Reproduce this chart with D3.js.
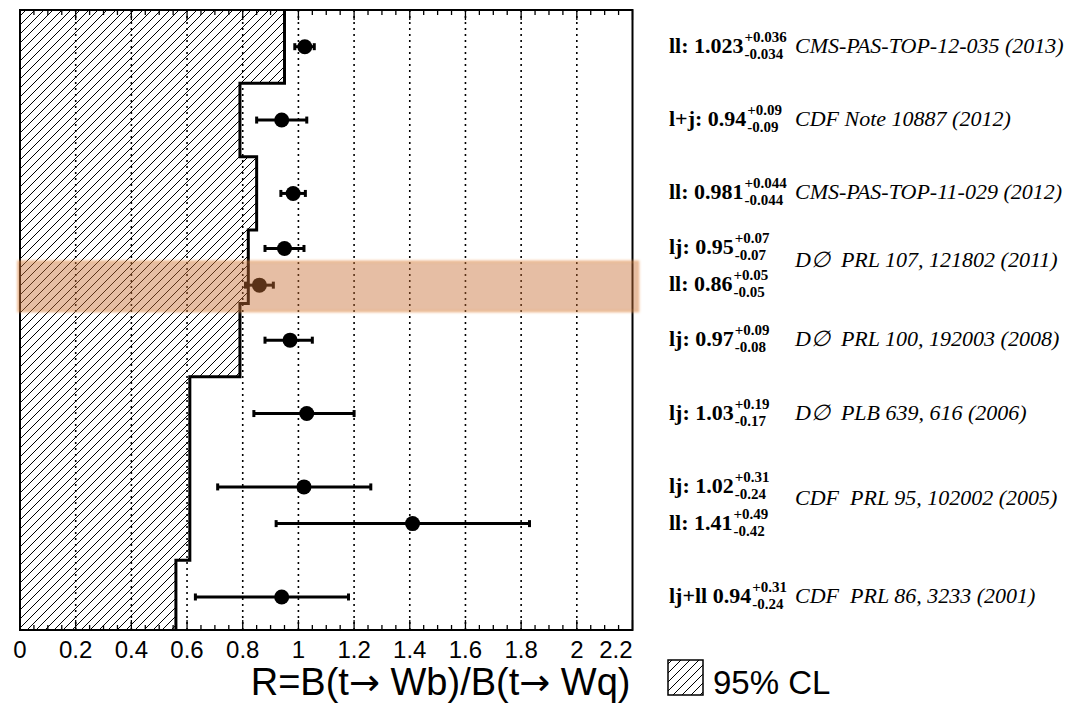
<!DOCTYPE html>
<html>
<head>
<meta charset="utf-8">
<script src="https://cdn.jsdelivr.net/npm/d3@7"></script>
<style>
  body { margin: 0; background: #fff; }
  svg { display: block; }
</style>
</head>
<body>
<svg id="chart" width="1084" height="714"></svg>
<script>
// ---- Measurements of R = B(t->Wb)/B(t->Wq) ----
const channels   = ["ll:", "l+j:", "ll:", "lj:", "ll:", "lj:", "lj:", "lj:", "ll:", "lj+ll"];
const values     = [1.023, 0.94, 0.981, 0.95, 0.86, 0.97, 1.03, 1.02, 1.41, 0.94];
const errPlus    = [0.036, 0.09, 0.044, 0.07, 0.05, 0.09, 0.19, 0.31, 0.49, 0.31];
const errMinus   = [0.034, 0.09, 0.044, 0.07, 0.05, 0.08, 0.17, 0.24, 0.42, 0.24];
const rowSlots   = [1, 3, 5, 6.5, 7.5, 9, 11, 13, 14, 16];

// Publications, each covering a run of measurement rows
const references = ["CMS-PAS-TOP-12-035 (2013)", "CDF Note 10887 (2012)", "CMS-PAS-TOP-11-029 (2012)",
                    "D\u2205  PRL 107, 121802 (2011)", "D\u2205  PRL 100, 192003 (2008)",
                    "D\u2205  PLB 639, 616 (2006)", "CDF  PRL 95, 102002 (2005)", "CDF  PRL 86, 3233 (2001)"];
const refFirstRow = [0, 1, 2, 3, 5, 6, 7, 9];
const refLastRow  = [0, 1, 2, 4, 5, 6, 8, 9];

// 95% CL lower limits, piecewise over slot bands
const clEdges  = [0, 2, 4, 6, 8, 10, 15, 16.9];
const clLimits = [0.95, 0.79, 0.85, 0.82, 0.79, 0.61, 0.56];

// Highlighted result band (slot range)
const highlightSlots = [6.85, 8.22];

const xTickLabels = ["0", "0.2", "0.4", "0.6", "0.8", "1", "1.2", "1.4", "1.6", "1.8", "2", "2.2"];
const xTitleParts = ["R=B(t", "\u2192", " Wb)/B(t", "\u2192", " Wq)"];
const legendText = "95% CL";

// ---- Layout ----
const frame = { left: 20, right: 632.5, top: 10, bottom: 630 };
const svg = d3.select("#chart");

const x = d3.scaleLinear().domain([0, 2.2]).range([frame.left, frame.right]);
const y = d3.scaleLinear().domain([0, 16.9]).range([frame.top, frame.bottom]);

const defs = svg.append("defs");
const hatch = defs.append("pattern")
  .attr("id", "hatch").attr("patternUnits", "userSpaceOnUse")
  .attr("width", 9).attr("height", 9);
hatch.append("path")
  .attr("d", "M0,9 L9,0 M-2,2 L2,-2 M7,11 L11,7")
  .attr("stroke", "#000").attr("stroke-width", 1).attr("fill", "none");

const soft = defs.append("filter").attr("id", "soft")
  .attr("x", "-5%").attr("y", "-20%").attr("width", "110%").attr("height", "140%");
soft.append("feGaussianBlur").attr("stdDeviation", 0.9);

// ---- Excluded region (hatched) ----
const stepPts = [];
clLimits.forEach((lim, i) => {
  stepPts.push([lim, clEdges[i]]);
  stepPts.push([lim, clEdges[i + 1]]);
});
const lineXY = d3.line().x(d => x(d[0])).y(d => y(d[1]));
const polygon = [[0, clEdges[0]], ...stepPts, [0, clEdges[clEdges.length - 1]]];

svg.append("path")
  .attr("d", lineXY(polygon) + "Z")
  .attr("fill", "url(#hatch)");

// ---- Dotted grid ----
const majors = d3.range(0, 11).map(i => i * 0.2);
svg.append("g").selectAll("line")
  .data(majors.slice(1))
  .join("line")
  .attr("x1", d => x(d)).attr("x2", d => x(d))
  .attr("y1", frame.top).attr("y2", frame.bottom)
  .attr("stroke", "#000").attr("stroke-width", 1.6)
  .attr("stroke-dasharray", "2,4");

// step outline of the limit
svg.append("path")
  .attr("d", lineXY([[clLimits[0], clEdges[0]], ...stepPts]))
  .attr("fill", "none").attr("stroke", "#000").attr("stroke-width", 3);

// ---- Ticks (top and bottom) ----
const minors = d3.range(0, 45).map(i => i * 0.05);
const tickG = svg.append("g").attr("stroke", "#000").attr("stroke-width", 1.3);
minors.forEach((v, i) => {
  const len = (i % 4 === 0) ? 10 : 5;
  tickG.append("line").attr("x1", x(v)).attr("x2", x(v))
    .attr("y1", frame.bottom).attr("y2", frame.bottom - len);
  tickG.append("line").attr("x1", x(v)).attr("x2", x(v))
    .attr("y1", frame.top).attr("y2", frame.top + len);
});

// ---- Measurements ----
const rows = values.map((v, i) => ({ v, lo: v - errPlus[i], hi: v + errMinus[i], slot: rowSlots[i] }));
const mg = svg.append("g");
mg.selectAll("line.bar").data(rows).join("line").attr("class", "bar")
  .attr("x1", d => x(d.lo)).attr("x2", d => x(d.hi))
  .attr("y1", d => y(d.slot)).attr("y2", d => y(d.slot))
  .attr("stroke", "#000").attr("stroke-width", 3);
["lo", "hi"].forEach(k => {
  mg.selectAll("line.cap-" + k).data(rows).join("line").attr("class", "cap-" + k)
    .attr("x1", d => x(d[k])).attr("x2", d => x(d[k]))
    .attr("y1", d => y(d.slot) - 3.5).attr("y2", d => y(d.slot) + 3.5)
    .attr("stroke", "#000").attr("stroke-width", 3);
});
mg.selectAll("circle").data(rows).join("circle")
  .attr("cx", d => x(d.v)).attr("cy", d => y(d.slot)).attr("r", 7.5)
  .attr("fill", "#000");

// ---- Frame ----
svg.append("rect")
  .attr("x", frame.left).attr("y", frame.top)
  .attr("width", frame.right - frame.left).attr("height", frame.bottom - frame.top)
  .attr("fill", "none").attr("stroke", "#000").attr("stroke-width", 2);

// ---- Highlight band ----
svg.append("rect")
  .attr("x", frame.left - 2).attr("width", frame.right - frame.left + 8)
  .attr("y", y(highlightSlots[0])).attr("height", y(highlightSlots[1]) - y(highlightSlots[0]))
  .attr("fill", "rgba(200,110,50,0.45)")
  .attr("stroke", "rgba(235,150,80,0.45)").attr("stroke-width", 2)
  .attr("filter", "url(#soft)");

// ---- X axis labels ----
const sans = "'Liberation Sans', Arial, Helvetica, sans-serif";
svg.append("g").selectAll("text").data(xTickLabels).join("text")
  .attr("x", (d, i) => x(i * 0.2))
  .attr("y", 658)
  .attr("text-anchor", (d, i) => i === xTickLabels.length - 1 ? "end" : "middle")
  .attr("font-family", sans).attr("font-size", 24)
  .text(d => d);

const title = svg.append("text")
  .attr("x", frame.right - 2).attr("y", 695)
  .attr("text-anchor", "end")
  .attr("font-family", sans).attr("font-size", 38)
  .attr("xml:space", "preserve").style("white-space", "pre");
xTitleParts.forEach(p => {
  const t = title.append("tspan").text(p);
  if (p === "\u2192") t.attr("font-family", "'DejaVu Sans', sans-serif").attr("font-size", 37);
});

// ---- Legend ----
svg.append("rect")
  .attr("x", 668).attr("y", 660).attr("width", 35).attr("height", 35)
  .attr("fill", "url(#hatch)").attr("stroke", "#000").attr("stroke-width", 1.5);
svg.append("text")
  .attr("x", 713).attr("y", 694)
  .attr("font-family", sans).attr("font-size", 33)
  .text(legendText);

// ---- Right-hand annotations ----
const serif = "'Liberation Serif', 'Times New Roman', Times, serif";
const labelX = 669;
const refX = 795;
const ann = svg.append("g").attr("font-family", serif);
rows.forEach((d, i) => {
  const base = y(d.slot) + 6;
  const main = ann.append("text")
    .attr("x", labelX).attr("y", base)
    .attr("font-weight", "bold").attr("font-size", 22)
    .text(channels[i] + " " + d.v);
  const sx = labelX + main.node().getComputedTextLength() + 1;
  ann.append("text").attr("x", sx).attr("y", base - 11)
    .attr("font-weight", "bold").attr("font-size", 15)
    .text("+" + errPlus[i]);
  ann.append("text").attr("x", sx).attr("y", base + 6)
    .attr("font-weight", "bold").attr("font-size", 15)
    .text("-" + errMinus[i]);
});

references.forEach((txt, j) => {
  const a = refFirstRow[j], b = refLastRow[j];
  const base = (a === b) ? y(rowSlots[a]) + 6 : y((rowSlots[a] + rowSlots[b]) / 2);
  ann.append("text")
    .attr("x", refX).attr("y", base)
    .attr("font-style", "italic").attr("font-size", 22)
    .attr("xml:space", "preserve").style("white-space", "pre")
    .text(txt);
});
</script>
</body>
</html>
